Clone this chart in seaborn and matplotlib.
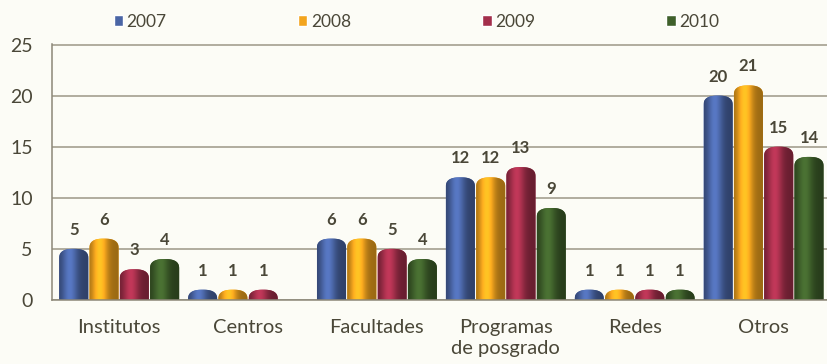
import numpy as np
import pandas as pd
import matplotlib
matplotlib.use("Agg")
import matplotlib.pyplot as plt
from matplotlib.patches import Polygon
import seaborn as sns

# ---- data -------------------------------------------------------------
categories = ["Institutos", "Centros", "Facultades", "Programas\nde posgrado", "Redes", "Otros"]
years = ["2007", "2008", "2009", "2010"]
v2007 = [5, 1, 6, 12, 1, 20]
v2008 = [6, 1, 6, 12, 1, 21]
v2009 = [3, 1, 5, 13, 1, 15]
v2010 = [4, 0, 4, 9, 1, 14]
yticks = [0, 5, 10, 15, 20, 25]

colors = ["#4a65a5", "#f3a51e", "#a32f4b", "#3f602b"]
text_color = "#4a4738"
bg = "#fcfcf6"

rows = []
for year, vals in zip(years, [v2007, v2008, v2009, v2010]):
    for cat, v in zip(categories, vals):
        rows.append({"categoria": cat, "anio": year, "valor": v})
df = pd.DataFrame(rows)

# ---- figure -----------------------------------------------------------
sns.set_theme(style="white")
plt.rcParams["font.family"] = ["Lato", "DejaVu Sans"]

fig = plt.figure(figsize=(8.28, 3.64), dpi=100, facecolor=bg)
ax = fig.add_axes([0.063, 0.176, 0.937, 0.703], facecolor=bg)

sns.barplot(data=df, x="categoria", y="valor", hue="anio", order=categories,
            hue_order=years, palette=colors, width=0.94, gap=0.04,
            saturation=1, ax=ax, legend=True)

ax.set_xlim(-0.52, 5.5)
ax.set_ylim(0, 25.05)

# data units per pixel in y, used to size the domed bar tops
fig.canvas.draw()
bb = ax.get_window_extent()
px_y = bb.height / 25.05
ry = 9.5 / px_y
theta = np.linspace(np.pi, 0, 40)
n_exp = 2.6
cx = np.sign(np.cos(theta)) * np.abs(np.cos(theta)) ** (2 / n_exp)
cy = np.abs(np.sin(theta)) ** (2 / n_exp)


def cylinder(x0, w, h):
    """Bar outline with a domed top reaching exactly the bar height."""
    base_y = -1.5
    top_body = h - ry
    xc = x0 + w / 2
    arc = np.column_stack([xc + (w / 2) * cx, top_body + ry * cy])
    pts = np.vstack([[x0, base_y], arc, [x0 + w, base_y]])
    return pts


xs = np.linspace(0, 1, 64)
shade = 0.64 + 0.55 * np.exp(-((xs - 0.36) / 0.26) ** 2)

for container, col, vals in zip(ax.containers, colors, [v2007, v2008, v2009, v2010]):
    base = np.array(matplotlib.colors.to_rgb(col))
    grad = np.clip(base[None, :] * shade[:, None], 0, 1)[None, :, :]
    for rect in container:
        x0, w, h = rect.get_x(), rect.get_width(), rect.get_height()
        rect.set_visible(False)
        if h <= 0:
            continue
        cyl = Polygon(cylinder(x0, w, h), closed=True, facecolor=col,
                      edgecolor="none", zorder=1.5)
        ax.add_patch(cyl)
        im = ax.imshow(grad, extent=(x0, x0 + w, -1.5, h), aspect="auto",
                       interpolation="bilinear", zorder=2)
        im.set_clip_path(cyl)
    labels = [str(v) if v else "" for v in vals]
    ax.bar_label(container, labels=labels, padding=8, fontsize=12,
                 fontweight="bold", color=text_color)

ax.set_xlim(-0.52, 5.5)
ax.set_ylim(0, 25.05)
ax.set_yticks(yticks)

ax.set_xlabel("")
ax.set_ylabel("")
ax.grid(axis="y", color="#9c9786", linewidth=1.1)
ax.set_axisbelow(True)
for s in ["top", "right"]:
    ax.spines[s].set_visible(False)
for s in ["left", "bottom"]:
    ax.spines[s].set_color("#8c8778")
    ax.spines[s].set_linewidth(1.1)

ax.tick_params(axis="y", length=0, pad=14, labelsize=14, labelcolor=text_color)
ax.tick_params(axis="x", length=0, pad=14, labelsize=14.5, labelcolor=text_color)
for t in ax.get_xticklabels():
    t.set_linespacing(1.25)

sns.move_legend(ax, "center", bbox_to_anchor=(0.503, 0.94),
                bbox_transform=fig.transFigure, ncol=4, frameon=False,
                title=None, columnspacing=7.55, handlelength=0.55,
                handleheight=0.55, handletextpad=0.2, fontsize=12.5)
for t in ax.get_legend().get_texts():
    t.set_color(text_color)

fig.savefig("out.png", dpi=100, facecolor=bg)
